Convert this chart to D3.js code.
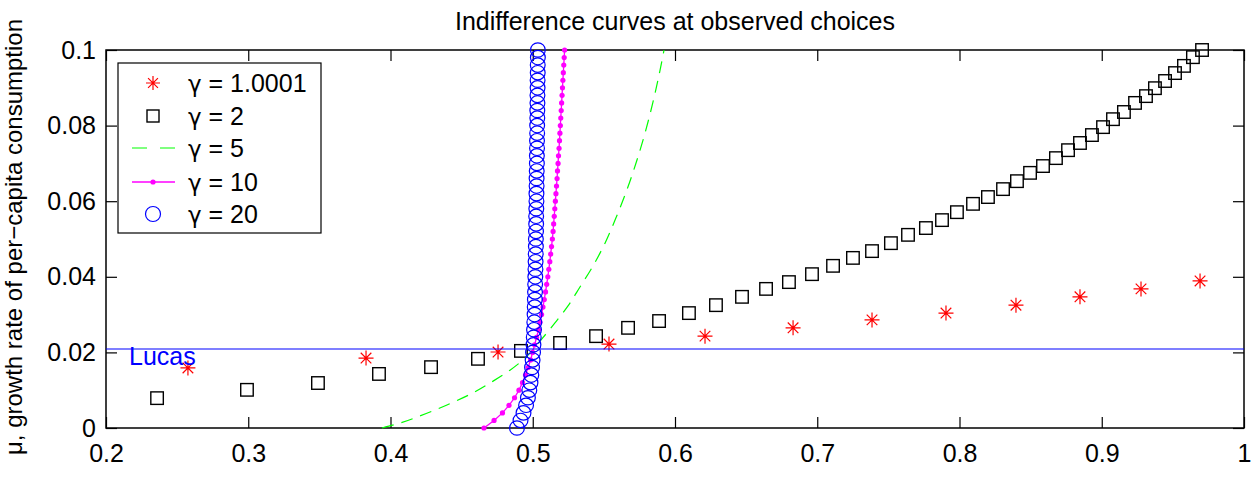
<!DOCTYPE html>
<html>
<head>
<meta charset="utf-8">
<script src="https://cdn.jsdelivr.net/npm/d3@7"></script>
<style>
  html, body { margin: 0; padding: 0; background: #fff; }
  svg text { font-family: "Liberation Sans", Arial, Helvetica, sans-serif; }
</style>
</head>
<body>
<svg id="chart" width="1254" height="477"></svg>
<script>
// ---------- data ----------
const titleText = "Indifference curves at observed choices";
const yLabelText = "\u03bc, growth rate of per\u2212capita consumption";

const xTicks = [0.2, 0.3, 0.4, 0.5, 0.6, 0.7, 0.8, 0.9, 1];
const xTickLabels = ["0.2", "0.3", "0.4", "0.5", "0.6", "0.7", "0.8", "0.9", "1"];
const yTicks = [0, 0.02, 0.04, 0.06, 0.08, 0.1];
const yTickLabels = ["0", "0.02", "0.04", "0.06", "0.08", "0.1"];

const lucasMu = 0.0209;

// gamma = 1.0001 (red asterisks)
const g1X = [0.2576, 0.3828, 0.4756, 0.5536, 0.6211, 0.6830, 0.7385, 0.7905, 0.8397, 0.8847, 0.9276, 0.9691];
const g1Y = [0.0159, 0.0185, 0.0201, 0.0222, 0.0243, 0.0265, 0.0286, 0.0304, 0.0325, 0.0347, 0.0368, 0.0389];

// gamma = 2 (black squares)
const g2X = [0.2359, 0.2991, 0.3490, 0.3919, 0.4285, 0.4615, 0.4917, 0.5192, 0.5445, 0.5670,
             0.5888, 0.6098, 0.6288, 0.6471, 0.6640, 0.6801, 0.6963, 0.7111, 0.7251, 0.7385,
             0.7518, 0.7638, 0.7764, 0.7877, 0.7982, 0.8095, 0.8200, 0.8306, 0.8404, 0.8496,
             0.8587, 0.8678, 0.8763, 0.8847, 0.8931, 0.9009, 0.9079, 0.9156, 0.9234, 0.9311,
             0.9374, 0.9445, 0.9515, 0.9578, 0.9641, 0.9705];
const g2Y = [0.0079, 0.0101, 0.0119, 0.0143, 0.0161, 0.0183, 0.0204, 0.0225, 0.0243, 0.0265,
             0.0283, 0.0304, 0.0325, 0.0347, 0.0368, 0.0386, 0.0407, 0.0429, 0.0450, 0.0468,
             0.0489, 0.0511, 0.0529, 0.0550, 0.0571, 0.0593, 0.0611, 0.0632, 0.0653, 0.0675,
             0.0693, 0.0714, 0.0735, 0.0754, 0.0775, 0.0796, 0.0817, 0.0836, 0.0860, 0.0878,
             0.0899, 0.0918, 0.0939, 0.0958, 0.0981, 0.1000];

// gamma = 5 (green dashed)
const g5X = [0.3940, 0.4067, 0.4207, 0.4397, 0.4580, 0.4721, 0.4840, 0.4946, 0.5051, 0.5156,
             0.5248, 0.5332, 0.5424, 0.5508, 0.5585, 0.5656, 0.5726, 0.5789, 0.5845, 0.5895, 0.5923];
const g5Y = [0.0000, 0.0013, 0.0032, 0.0061, 0.0093, 0.0124, 0.0153, 0.0185, 0.0230, 0.0278,
             0.0323, 0.0373, 0.0429, 0.0489, 0.0556, 0.0624, 0.0701, 0.0780, 0.0862, 0.0947, 0.1000];

// mu grid for gamma = 10 and gamma = 20
const muGrid = [0.000, 0.002, 0.004, 0.006, 0.008, 0.010, 0.012, 0.014, 0.016, 0.018,
                0.020, 0.022, 0.024, 0.026, 0.028, 0.030, 0.032, 0.034, 0.036, 0.038,
                0.040, 0.042, 0.044, 0.046, 0.048, 0.050, 0.052, 0.054, 0.056, 0.058,
                0.060, 0.062, 0.064, 0.066, 0.068, 0.070, 0.072, 0.074, 0.076, 0.078,
                0.080, 0.082, 0.084, 0.086, 0.088, 0.090, 0.092, 0.094, 0.096, 0.098, 0.100];

// gamma = 10 (magenta line with dots)
const g10X = [0.4657, 0.4728, 0.4787, 0.4833, 0.4872, 0.4903, 0.4928, 0.4949, 0.4967, 0.4985,
              0.4999, 0.5013, 0.5027, 0.5041, 0.5051, 0.5062, 0.5072, 0.5081, 0.5090, 0.5098,
              0.5106, 0.5113, 0.5120, 0.5126, 0.5132, 0.5138, 0.5143, 0.5147, 0.5151, 0.5155,
              0.5159, 0.5163, 0.5167, 0.5171, 0.5174, 0.5178, 0.5181, 0.5185, 0.5188, 0.5191,
              0.5194, 0.5197, 0.5200, 0.5203, 0.5206, 0.5209, 0.5212, 0.5215, 0.5218, 0.5221, 0.5224];

// gamma = 20 (blue circles)
const g20X = [0.4889, 0.4914, 0.4935, 0.4953, 0.4966, 0.4976, 0.4984, 0.4990, 0.4995, 0.4999,
              0.5002, 0.5005, 0.5007, 0.5009, 0.5011, 0.5013, 0.5014, 0.5015, 0.5016, 0.5017,
              0.5018, 0.5019, 0.5020, 0.5021, 0.5022, 0.5022, 0.5023, 0.5024, 0.5024, 0.5025,
              0.5026, 0.5026, 0.5027, 0.5027, 0.5028, 0.5029, 0.5029, 0.5030, 0.5030, 0.5031,
              0.5031, 0.5032, 0.5032, 0.5033, 0.5033, 0.5034, 0.5034, 0.5035, 0.5035, 0.5036, 0.5036];

const legendValues = ["1.0001", "2", "5", "10", "20"];

// ---------- layout ----------
const svg = d3.select("#chart");
const L = 106, R = 1244, T = 50, B = 428;
const FS = 25;

const x = d3.scaleLinear().domain([0.2, 1]).range([L, R]);
const y = d3.scaleLinear().domain([0, 0.1]).range([B, T]);

const zip = (a, b) => a.map((v, i) => [v, b[i]]);

function asterisk(s) {
  const d = s * 0.7071;
  return `M${-s},0L${s},0M0,${-s}L0,${s}M${-d},${-d}L${d},${d}M${-d},${d}L${d},${-d}`;
}

// ---------- axes ----------
const gAx = svg.append("g");
const tickLen = 11;

const xAxisB = d3.axisBottom(x).tickValues(xTicks).tickSize(-tickLen).tickPadding(16)
  .tickFormat((d, i) => xTickLabels[i]);
const xAxisT = d3.axisTop(x).tickValues(xTicks).tickSize(-tickLen).tickFormat("");
const yAxisL = d3.axisLeft(y).tickValues(yTicks).tickSize(-tickLen).tickPadding(10)
  .tickFormat((d, i) => yTickLabels[i]);
const yAxisR = d3.axisRight(y).tickValues(yTicks).tickSize(-tickLen).tickFormat("");

function styleAxis(g) {
  g.select(".domain").remove();
  g.selectAll(".tick line").attr("stroke", "#000").attr("stroke-width", 1.2);
  g.selectAll(".tick text").attr("fill", "#000").style("font-size", FS + "px")
    .style("font-family", '"Liberation Sans", Arial, sans-serif');
}
gAx.append("g").attr("transform", `translate(0,${B})`).call(xAxisB).call(styleAxis);
gAx.append("g").attr("transform", `translate(0,${T})`).call(xAxisT).call(styleAxis);
gAx.append("g").attr("transform", `translate(${L},0)`).call(yAxisL).call(styleAxis);
gAx.append("g").attr("transform", `translate(${R},0)`).call(yAxisR).call(styleAxis);

gAx.append("rect").attr("x", L).attr("y", T).attr("width", R - L).attr("height", B - T)
  .attr("fill", "none").attr("stroke", "#000").attr("stroke-width", 1.5);

// ---------- series ----------
const gData = svg.append("g");

gData.append("g").selectAll("path").data(zip(g1X, g1Y)).join("path")
  .attr("transform", d => `translate(${x(d[0])},${y(d[1])})`)
  .attr("d", asterisk(7.5)).attr("stroke", "#ff0000").attr("stroke-width", 1.2).attr("fill", "none");

const sq = 12.5;
gData.append("g").selectAll("rect").data(zip(g2X, g2Y)).join("rect")
  .attr("x", d => x(d[0]) - sq / 2).attr("y", d => y(d[1]) - sq / 2)
  .attr("width", sq).attr("height", sq)
  .attr("fill", "none").attr("stroke", "#000").attr("stroke-width", 1.4);

const line = d3.line().x(d => x(d[0])).y(d => y(d[1])).curve(d3.curveMonotoneY);
gData.append("path").datum(zip(g5X, g5Y)).attr("d", line)
  .attr("fill", "none").attr("stroke", "#00ff00").attr("stroke-width", 1.2)
  .attr("stroke-dasharray", "12,8");

const lineLin = d3.line().x(d => x(d[0])).y(d => y(d[1]));
gData.append("path").datum(zip(g10X, muGrid)).attr("d", lineLin)
  .attr("fill", "none").attr("stroke", "#ff00ff").attr("stroke-width", 1.3);
gData.append("g").selectAll("circle").data(zip(g10X, muGrid)).join("circle")
  .attr("cx", d => x(d[0])).attr("cy", d => y(d[1])).attr("r", 2.6).attr("fill", "#ff00ff");

gData.append("g").selectAll("ellipse").data(zip(g20X, muGrid)).join("ellipse")
  .attr("cx", d => x(d[0])).attr("cy", d => y(d[1])).attr("rx", 7.4).attr("ry", 7.2)
  .attr("fill", "none").attr("stroke", "#0000ff").attr("stroke-width", 1.2);

// Lucas line
svg.append("line").attr("x1", x(0.2)).attr("x2", x(1)).attr("y1", y(lucasMu)).attr("y2", y(lucasMu))
  .attr("stroke", "#0000ff").attr("stroke-width", 1.2);
svg.append("text").attr("x", x(0.2) + 23).attr("y", y(lucasMu) + 16)
  .attr("fill", "#0000ff").style("font-size", FS + "px").text("Lucas");

// ---------- title & labels ----------
svg.append("text").attr("x", (L + R) / 2).attr("y", 30).attr("text-anchor", "middle")
  .attr("fill", "#000").style("font-size", FS + "px").text(titleText);

svg.append("text").attr("transform", `translate(22,237) rotate(-90)`)
  .attr("text-anchor", "middle").attr("fill", "#000").style("font-size", "24px").text(yLabelText);

// ---------- legend ----------
const lg = svg.append("g");
const lx = 118, ly = 63, lw = 203, lh = 170;
lg.append("rect").attr("x", lx).attr("y", ly).attr("width", lw).attr("height", lh)
  .attr("fill", "#fff").attr("stroke", "#000").attr("stroke-width", 1.2);
const rowY = [83, 116, 148, 182, 214];
const mX = 153, lineX1 = 132, lineX2 = 175, textX = 188;

lg.append("path").attr("transform", `translate(${mX},${rowY[0]})`).attr("d", asterisk(7))
  .attr("stroke", "#ff0000").attr("stroke-width", 1.2).attr("fill", "none");
lg.append("rect").attr("x", mX - 6).attr("y", rowY[1] - 6).attr("width", 12).attr("height", 12)
  .attr("fill", "none").attr("stroke", "#000").attr("stroke-width", 1.4);
lg.append("line").attr("x1", lineX1).attr("x2", lineX2).attr("y1", rowY[2]).attr("y2", rowY[2])
  .attr("stroke", "#00ff00").attr("stroke-width", 1.2).attr("stroke-dasharray", "15,13");
lg.append("line").attr("x1", lineX1).attr("x2", lineX2).attr("y1", rowY[3]).attr("y2", rowY[3])
  .attr("stroke", "#ff00ff").attr("stroke-width", 1.3);
lg.append("circle").attr("cx", mX).attr("cy", rowY[3]).attr("r", 2.6).attr("fill", "#ff00ff");
lg.append("circle").attr("cx", mX).attr("cy", rowY[4]).attr("r", 7.5)
  .attr("fill", "none").attr("stroke", "#0000ff").attr("stroke-width", 1.2);

const lt = lg.selectAll("text.lab").data(legendValues).join("text").attr("class", "lab")
  .attr("x", textX).attr("y", (d, i) => rowY[i]).attr("dy", "0.35em")
  .attr("fill", "#000").style("font-size", FS + "px");
lt.append("tspan").style("font-family", '"DejaVu Sans", sans-serif').style("font-size", (FS - 2) + "px").text("\u03b3");
lt.append("tspan").text(d => " = " + d);
</script>
</body>
</html>
